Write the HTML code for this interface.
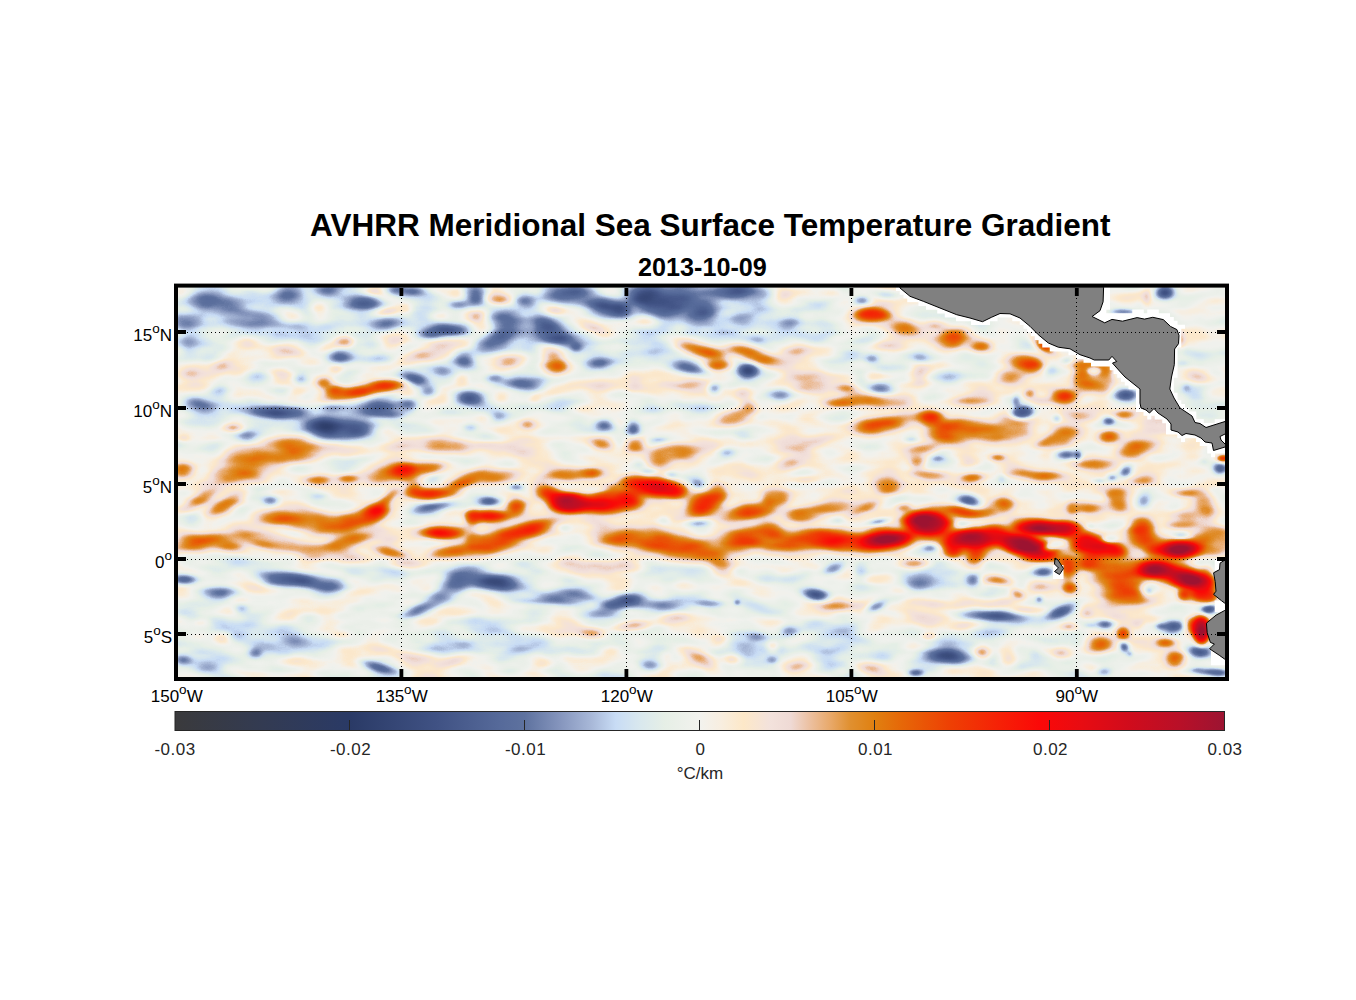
<!DOCTYPE html>
<html><head><meta charset="utf-8"><title>AVHRR Meridional Sea Surface Temperature Gradient</title>
<style>
html,body{margin:0;padding:0;background:#fff;}
body{width:1356px;height:1000px;position:relative;overflow:hidden;font-family:"Liberation Sans",Arial,Helvetica,sans-serif;color:#000;}
#fig{position:absolute;left:0;top:0;width:1356px;height:1000px;}
.t{position:absolute;white-space:nowrap;line-height:1;}
#title{left:310px;top:209.6px;font-size:31.5px;font-weight:bold;}
#sub{left:638px;top:254.8px;font-size:25.2px;font-weight:bold;}
.yl{font-size:17px;text-align:right;right:1184px;}
.xl{font-size:17px;text-align:center;width:80px;margin-left:-39.3px;top:687.5px;}
.cl{font-size:17px;letter-spacing:0.5px;text-align:center;width:80px;margin-left:-39px;top:741.3px;color:#262626;}
sup{font-size:13.5px;vertical-align:baseline;position:relative;top:-7.9px;line-height:0;}
#unit{left:640px;width:120px;text-align:center;top:765.2px;font-size:17px;color:#262626;}
</style></head><body>
<svg id="fig" width="1356" height="1000" viewBox="0 0 1356 1000">
<defs>
<radialGradient id="z1"><stop offset="0.00" stop-color="#6f6f6f" stop-opacity="1.000"/><stop offset="0.10" stop-color="#6f6f6f" stop-opacity="0.966"/><stop offset="0.20" stop-color="#6f6f6f" stop-opacity="0.871"/><stop offset="0.30" stop-color="#6f6f6f" stop-opacity="0.733"/><stop offset="0.40" stop-color="#6f6f6f" stop-opacity="0.574"/><stop offset="0.50" stop-color="#6f6f6f" stop-opacity="0.416"/><stop offset="0.60" stop-color="#6f6f6f" stop-opacity="0.278"/><stop offset="0.70" stop-color="#6f6f6f" stop-opacity="0.167"/><stop offset="0.80" stop-color="#6f6f6f" stop-opacity="0.087"/><stop offset="0.90" stop-color="#6f6f6f" stop-opacity="0.033"/><stop offset="1.00" stop-color="#6f6f6f" stop-opacity="0.000"/></radialGradient>
<radialGradient id="z2"><stop offset="0.00" stop-color="#878787" stop-opacity="1.000"/><stop offset="0.10" stop-color="#878787" stop-opacity="0.966"/><stop offset="0.20" stop-color="#878787" stop-opacity="0.871"/><stop offset="0.30" stop-color="#878787" stop-opacity="0.733"/><stop offset="0.40" stop-color="#878787" stop-opacity="0.574"/><stop offset="0.50" stop-color="#878787" stop-opacity="0.416"/><stop offset="0.60" stop-color="#878787" stop-opacity="0.278"/><stop offset="0.70" stop-color="#878787" stop-opacity="0.167"/><stop offset="0.80" stop-color="#878787" stop-opacity="0.087"/><stop offset="0.90" stop-color="#878787" stop-opacity="0.033"/><stop offset="1.00" stop-color="#878787" stop-opacity="0.000"/></radialGradient>
<radialGradient id="b1"><stop offset="0.00" stop-color="#6e6e6e" stop-opacity="1.000"/><stop offset="0.10" stop-color="#6e6e6e" stop-opacity="0.966"/><stop offset="0.20" stop-color="#6e6e6e" stop-opacity="0.871"/><stop offset="0.30" stop-color="#6e6e6e" stop-opacity="0.733"/><stop offset="0.40" stop-color="#6e6e6e" stop-opacity="0.574"/><stop offset="0.50" stop-color="#6e6e6e" stop-opacity="0.416"/><stop offset="0.60" stop-color="#6e6e6e" stop-opacity="0.278"/><stop offset="0.70" stop-color="#6e6e6e" stop-opacity="0.167"/><stop offset="0.80" stop-color="#6e6e6e" stop-opacity="0.087"/><stop offset="0.90" stop-color="#6e6e6e" stop-opacity="0.033"/><stop offset="1.00" stop-color="#6e6e6e" stop-opacity="0.000"/></radialGradient>
<radialGradient id="b2"><stop offset="0.00" stop-color="#636363" stop-opacity="1.000"/><stop offset="0.10" stop-color="#636363" stop-opacity="0.966"/><stop offset="0.20" stop-color="#636363" stop-opacity="0.871"/><stop offset="0.30" stop-color="#636363" stop-opacity="0.733"/><stop offset="0.40" stop-color="#636363" stop-opacity="0.574"/><stop offset="0.50" stop-color="#636363" stop-opacity="0.416"/><stop offset="0.60" stop-color="#636363" stop-opacity="0.278"/><stop offset="0.70" stop-color="#636363" stop-opacity="0.167"/><stop offset="0.80" stop-color="#636363" stop-opacity="0.087"/><stop offset="0.90" stop-color="#636363" stop-opacity="0.033"/><stop offset="1.00" stop-color="#636363" stop-opacity="0.000"/></radialGradient>
<radialGradient id="b3"><stop offset="0.00" stop-color="#595959" stop-opacity="1.000"/><stop offset="0.10" stop-color="#595959" stop-opacity="0.978"/><stop offset="0.20" stop-color="#595959" stop-opacity="0.902"/><stop offset="0.30" stop-color="#595959" stop-opacity="0.777"/><stop offset="0.40" stop-color="#595959" stop-opacity="0.620"/><stop offset="0.50" stop-color="#595959" stop-opacity="0.455"/><stop offset="0.60" stop-color="#595959" stop-opacity="0.304"/><stop offset="0.70" stop-color="#595959" stop-opacity="0.182"/><stop offset="0.80" stop-color="#595959" stop-opacity="0.092"/><stop offset="0.90" stop-color="#595959" stop-opacity="0.034"/><stop offset="1.00" stop-color="#595959" stop-opacity="0.000"/></radialGradient>
<radialGradient id="b4"><stop offset="0.00" stop-color="#4f4f4f" stop-opacity="1.000"/><stop offset="0.10" stop-color="#4f4f4f" stop-opacity="0.978"/><stop offset="0.20" stop-color="#4f4f4f" stop-opacity="0.902"/><stop offset="0.30" stop-color="#4f4f4f" stop-opacity="0.777"/><stop offset="0.40" stop-color="#4f4f4f" stop-opacity="0.620"/><stop offset="0.50" stop-color="#4f4f4f" stop-opacity="0.455"/><stop offset="0.60" stop-color="#4f4f4f" stop-opacity="0.304"/><stop offset="0.70" stop-color="#4f4f4f" stop-opacity="0.182"/><stop offset="0.80" stop-color="#4f4f4f" stop-opacity="0.092"/><stop offset="0.90" stop-color="#4f4f4f" stop-opacity="0.034"/><stop offset="1.00" stop-color="#4f4f4f" stop-opacity="0.000"/></radialGradient>
<radialGradient id="b5"><stop offset="0.00" stop-color="#464646" stop-opacity="1.000"/><stop offset="0.10" stop-color="#464646" stop-opacity="0.978"/><stop offset="0.20" stop-color="#464646" stop-opacity="0.902"/><stop offset="0.30" stop-color="#464646" stop-opacity="0.777"/><stop offset="0.40" stop-color="#464646" stop-opacity="0.620"/><stop offset="0.50" stop-color="#464646" stop-opacity="0.455"/><stop offset="0.60" stop-color="#464646" stop-opacity="0.304"/><stop offset="0.70" stop-color="#464646" stop-opacity="0.182"/><stop offset="0.80" stop-color="#464646" stop-opacity="0.092"/><stop offset="0.90" stop-color="#464646" stop-opacity="0.034"/><stop offset="1.00" stop-color="#464646" stop-opacity="0.000"/></radialGradient>
<radialGradient id="b6"><stop offset="0.00" stop-color="#373737" stop-opacity="1.000"/><stop offset="0.10" stop-color="#373737" stop-opacity="0.978"/><stop offset="0.20" stop-color="#373737" stop-opacity="0.902"/><stop offset="0.30" stop-color="#373737" stop-opacity="0.777"/><stop offset="0.40" stop-color="#373737" stop-opacity="0.620"/><stop offset="0.50" stop-color="#373737" stop-opacity="0.455"/><stop offset="0.60" stop-color="#373737" stop-opacity="0.304"/><stop offset="0.70" stop-color="#373737" stop-opacity="0.182"/><stop offset="0.80" stop-color="#373737" stop-opacity="0.092"/><stop offset="0.90" stop-color="#373737" stop-opacity="0.034"/><stop offset="1.00" stop-color="#373737" stop-opacity="0.000"/></radialGradient>
<radialGradient id="o1"><stop offset="0.00" stop-color="#8d8d8d" stop-opacity="1.000"/><stop offset="0.10" stop-color="#8d8d8d" stop-opacity="0.966"/><stop offset="0.20" stop-color="#8d8d8d" stop-opacity="0.871"/><stop offset="0.30" stop-color="#8d8d8d" stop-opacity="0.733"/><stop offset="0.40" stop-color="#8d8d8d" stop-opacity="0.574"/><stop offset="0.50" stop-color="#8d8d8d" stop-opacity="0.416"/><stop offset="0.60" stop-color="#8d8d8d" stop-opacity="0.278"/><stop offset="0.70" stop-color="#8d8d8d" stop-opacity="0.167"/><stop offset="0.80" stop-color="#8d8d8d" stop-opacity="0.087"/><stop offset="0.90" stop-color="#8d8d8d" stop-opacity="0.033"/><stop offset="1.00" stop-color="#8d8d8d" stop-opacity="0.000"/></radialGradient>
<radialGradient id="o2"><stop offset="0.00" stop-color="#999999" stop-opacity="1.000"/><stop offset="0.10" stop-color="#999999" stop-opacity="0.966"/><stop offset="0.20" stop-color="#999999" stop-opacity="0.871"/><stop offset="0.30" stop-color="#999999" stop-opacity="0.733"/><stop offset="0.40" stop-color="#999999" stop-opacity="0.574"/><stop offset="0.50" stop-color="#999999" stop-opacity="0.416"/><stop offset="0.60" stop-color="#999999" stop-opacity="0.278"/><stop offset="0.70" stop-color="#999999" stop-opacity="0.167"/><stop offset="0.80" stop-color="#999999" stop-opacity="0.087"/><stop offset="0.90" stop-color="#999999" stop-opacity="0.033"/><stop offset="1.00" stop-color="#999999" stop-opacity="0.000"/></radialGradient>
<radialGradient id="o3"><stop offset="0.00" stop-color="#a7a7a7" stop-opacity="1.000"/><stop offset="0.10" stop-color="#a7a7a7" stop-opacity="0.987"/><stop offset="0.20" stop-color="#a7a7a7" stop-opacity="0.931"/><stop offset="0.30" stop-color="#a7a7a7" stop-opacity="0.821"/><stop offset="0.40" stop-color="#a7a7a7" stop-opacity="0.667"/><stop offset="0.50" stop-color="#a7a7a7" stop-opacity="0.491"/><stop offset="0.60" stop-color="#a7a7a7" stop-opacity="0.323"/><stop offset="0.70" stop-color="#a7a7a7" stop-opacity="0.185"/><stop offset="0.80" stop-color="#a7a7a7" stop-opacity="0.089"/><stop offset="0.90" stop-color="#a7a7a7" stop-opacity="0.030"/><stop offset="1.00" stop-color="#a7a7a7" stop-opacity="0.000"/></radialGradient>
<radialGradient id="o4"><stop offset="0.00" stop-color="#aeaeae" stop-opacity="1.000"/><stop offset="0.10" stop-color="#aeaeae" stop-opacity="0.987"/><stop offset="0.20" stop-color="#aeaeae" stop-opacity="0.931"/><stop offset="0.30" stop-color="#aeaeae" stop-opacity="0.821"/><stop offset="0.40" stop-color="#aeaeae" stop-opacity="0.667"/><stop offset="0.50" stop-color="#aeaeae" stop-opacity="0.491"/><stop offset="0.60" stop-color="#aeaeae" stop-opacity="0.323"/><stop offset="0.70" stop-color="#aeaeae" stop-opacity="0.185"/><stop offset="0.80" stop-color="#aeaeae" stop-opacity="0.089"/><stop offset="0.90" stop-color="#aeaeae" stop-opacity="0.030"/><stop offset="1.00" stop-color="#aeaeae" stop-opacity="0.000"/></radialGradient>
<radialGradient id="o5"><stop offset="0.00" stop-color="#b5b5b5" stop-opacity="1.000"/><stop offset="0.10" stop-color="#b5b5b5" stop-opacity="0.987"/><stop offset="0.20" stop-color="#b5b5b5" stop-opacity="0.931"/><stop offset="0.30" stop-color="#b5b5b5" stop-opacity="0.821"/><stop offset="0.40" stop-color="#b5b5b5" stop-opacity="0.667"/><stop offset="0.50" stop-color="#b5b5b5" stop-opacity="0.491"/><stop offset="0.60" stop-color="#b5b5b5" stop-opacity="0.323"/><stop offset="0.70" stop-color="#b5b5b5" stop-opacity="0.185"/><stop offset="0.80" stop-color="#b5b5b5" stop-opacity="0.089"/><stop offset="0.90" stop-color="#b5b5b5" stop-opacity="0.030"/><stop offset="1.00" stop-color="#b5b5b5" stop-opacity="0.000"/></radialGradient>
<radialGradient id="r1"><stop offset="0.00" stop-color="#bfbfbf" stop-opacity="1.000"/><stop offset="0.10" stop-color="#bfbfbf" stop-opacity="0.987"/><stop offset="0.20" stop-color="#bfbfbf" stop-opacity="0.931"/><stop offset="0.30" stop-color="#bfbfbf" stop-opacity="0.821"/><stop offset="0.40" stop-color="#bfbfbf" stop-opacity="0.667"/><stop offset="0.50" stop-color="#bfbfbf" stop-opacity="0.491"/><stop offset="0.60" stop-color="#bfbfbf" stop-opacity="0.323"/><stop offset="0.70" stop-color="#bfbfbf" stop-opacity="0.185"/><stop offset="0.80" stop-color="#bfbfbf" stop-opacity="0.089"/><stop offset="0.90" stop-color="#bfbfbf" stop-opacity="0.030"/><stop offset="1.00" stop-color="#bfbfbf" stop-opacity="0.000"/></radialGradient>
<radialGradient id="r2"><stop offset="0.00" stop-color="#cdcdcd" stop-opacity="1.000"/><stop offset="0.10" stop-color="#cdcdcd" stop-opacity="0.987"/><stop offset="0.20" stop-color="#cdcdcd" stop-opacity="0.931"/><stop offset="0.30" stop-color="#cdcdcd" stop-opacity="0.821"/><stop offset="0.40" stop-color="#cdcdcd" stop-opacity="0.667"/><stop offset="0.50" stop-color="#cdcdcd" stop-opacity="0.491"/><stop offset="0.60" stop-color="#cdcdcd" stop-opacity="0.323"/><stop offset="0.70" stop-color="#cdcdcd" stop-opacity="0.185"/><stop offset="0.80" stop-color="#cdcdcd" stop-opacity="0.089"/><stop offset="0.90" stop-color="#cdcdcd" stop-opacity="0.030"/><stop offset="1.00" stop-color="#cdcdcd" stop-opacity="0.000"/></radialGradient>
<radialGradient id="r3"><stop offset="0.00" stop-color="#e1e1e1" stop-opacity="1.000"/><stop offset="0.10" stop-color="#e1e1e1" stop-opacity="0.993"/><stop offset="0.20" stop-color="#e1e1e1" stop-opacity="0.954"/><stop offset="0.30" stop-color="#e1e1e1" stop-opacity="0.864"/><stop offset="0.40" stop-color="#e1e1e1" stop-opacity="0.721"/><stop offset="0.50" stop-color="#e1e1e1" stop-opacity="0.542"/><stop offset="0.60" stop-color="#e1e1e1" stop-opacity="0.358"/><stop offset="0.70" stop-color="#e1e1e1" stop-opacity="0.202"/><stop offset="0.80" stop-color="#e1e1e1" stop-opacity="0.093"/><stop offset="0.90" stop-color="#e1e1e1" stop-opacity="0.030"/><stop offset="1.00" stop-color="#e1e1e1" stop-opacity="0.000"/></radialGradient>
<radialGradient id="r4"><stop offset="0.00" stop-color="#ffffff" stop-opacity="1.000"/><stop offset="0.10" stop-color="#ffffff" stop-opacity="0.997"/><stop offset="0.20" stop-color="#ffffff" stop-opacity="0.973"/><stop offset="0.30" stop-color="#ffffff" stop-opacity="0.906"/><stop offset="0.40" stop-color="#ffffff" stop-opacity="0.780"/><stop offset="0.50" stop-color="#ffffff" stop-opacity="0.601"/><stop offset="0.60" stop-color="#ffffff" stop-opacity="0.400"/><stop offset="0.70" stop-color="#ffffff" stop-opacity="0.221"/><stop offset="0.80" stop-color="#ffffff" stop-opacity="0.095"/><stop offset="0.90" stop-color="#ffffff" stop-opacity="0.027"/><stop offset="1.00" stop-color="#ffffff" stop-opacity="0.000"/></radialGradient>
<radialGradient id="hw"><stop offset="0.00" stop-color="#7e7e7e" stop-opacity="1.000"/><stop offset="0.10" stop-color="#7e7e7e" stop-opacity="0.996"/><stop offset="0.20" stop-color="#7e7e7e" stop-opacity="0.966"/><stop offset="0.30" stop-color="#7e7e7e" stop-opacity="0.891"/><stop offset="0.40" stop-color="#7e7e7e" stop-opacity="0.761"/><stop offset="0.50" stop-color="#7e7e7e" stop-opacity="0.586"/><stop offset="0.60" stop-color="#7e7e7e" stop-opacity="0.395"/><stop offset="0.70" stop-color="#7e7e7e" stop-opacity="0.225"/><stop offset="0.80" stop-color="#7e7e7e" stop-opacity="0.103"/><stop offset="0.90" stop-color="#7e7e7e" stop-opacity="0.032"/><stop offset="1.00" stop-color="#7e7e7e" stop-opacity="0.000"/></radialGradient>
<radialGradient id="hb"><stop offset="0.00" stop-color="#606060" stop-opacity="1.000"/><stop offset="0.10" stop-color="#606060" stop-opacity="0.988"/><stop offset="0.20" stop-color="#606060" stop-opacity="0.936"/><stop offset="0.30" stop-color="#606060" stop-opacity="0.833"/><stop offset="0.40" stop-color="#606060" stop-opacity="0.687"/><stop offset="0.50" stop-color="#606060" stop-opacity="0.517"/><stop offset="0.60" stop-color="#606060" stop-opacity="0.350"/><stop offset="0.70" stop-color="#606060" stop-opacity="0.208"/><stop offset="0.80" stop-color="#606060" stop-opacity="0.104"/><stop offset="0.90" stop-color="#606060" stop-opacity="0.037"/><stop offset="1.00" stop-color="#606060" stop-opacity="0.000"/></radialGradient>
<linearGradient id="cb" x1="0" x2="1" y1="0" y2="0"><stop offset="0.0000" stop-color="#3a3a3c"/><stop offset="0.0833" stop-color="#333b52"/><stop offset="0.1667" stop-color="#2a3a66"/><stop offset="0.2500" stop-color="#405284"/><stop offset="0.3100" stop-color="#566a9a"/><stop offset="0.3333" stop-color="#5e729f"/><stop offset="0.3667" stop-color="#8595bd"/><stop offset="0.3967" stop-color="#a8b8d8"/><stop offset="0.4200" stop-color="#c8dcf5"/><stop offset="0.4433" stop-color="#d9e8ee"/><stop offset="0.4667" stop-color="#e6efe6"/><stop offset="0.5000" stop-color="#f2f2ee"/><stop offset="0.5200" stop-color="#f8eee0"/><stop offset="0.5417" stop-color="#fde8c8"/><stop offset="0.5667" stop-color="#f3e2dc"/><stop offset="0.5867" stop-color="#efdad5"/><stop offset="0.6050" stop-color="#ecc0a0"/><stop offset="0.6250" stop-color="#e8a868"/><stop offset="0.6433" stop-color="#e09030"/><stop offset="0.6667" stop-color="#e08010"/><stop offset="0.6917" stop-color="#e66808"/><stop offset="0.7383" stop-color="#ee4004"/><stop offset="0.7867" stop-color="#f62006"/><stop offset="0.8250" stop-color="#fb0808"/><stop offset="0.8633" stop-color="#e80c12"/><stop offset="0.9100" stop-color="#d00c1c"/><stop offset="0.9583" stop-color="#b81028"/><stop offset="1.0000" stop-color="#9c1432"/></linearGradient>
<clipPath id="mapclip"><rect x="176" y="286" width="1051" height="393"/></clipPath>
<filter id="cm" x="170" y="280" width="1064" height="406" filterUnits="userSpaceOnUse" color-interpolation-filters="sRGB">
<feGaussianBlur in="SourceGraphic" stdDeviation="1.5" result="bl"/>
<feTurbulence type="fractalNoise" baseFrequency="0.022 0.055" numOctaves="2" seed="7" result="nz"/>
<feColorMatrix in="nz" type="matrix" values="1 0 0 0 0  1 0 0 0 0  1 0 0 0 0  0 0 0 0 1" result="ng"/>
<feComposite in="bl" in2="ng" operator="arithmetic" k1="0" k2="1" k3="0.21" k4="-0.108" result="fld"/>
<feComponentTransfer in="fld"><feFuncR type="table" tableValues="0.227 0.227 0.224 0.220 0.220 0.216 0.212 0.212 0.208 0.204 0.204 0.200 0.196 0.192 0.192 0.188 0.184 0.180 0.176 0.173 0.169 0.169 0.169 0.176 0.184 0.192 0.200 0.208 0.216 0.224 0.231 0.239 0.247 0.259 0.271 0.282 0.290 0.302 0.314 0.325 0.337 0.349 0.357 0.369 0.404 0.439 0.478 0.514 0.549 0.584 0.620 0.655 0.698 0.741 0.780 0.804 0.827 0.851 0.867 0.886 0.902 0.914 0.925 0.933 0.945 0.957 0.965 0.973 0.980 0.988 0.988 0.973 0.961 0.953 0.945 0.937 0.933 0.929 0.922 0.918 0.910 0.898 0.886 0.878 0.878 0.878 0.882 0.890 0.898 0.902 0.910 0.914 0.918 0.925 0.929 0.933 0.941 0.945 0.949 0.957 0.961 0.965 0.969 0.973 0.976 0.980 0.980 0.965 0.949 0.933 0.918 0.902 0.886 0.871 0.855 0.839 0.824 0.808 0.792 0.776 0.761 0.749 0.733 0.714 0.694 0.675 0.655 0.631 0.612"/><feFuncG type="table" tableValues="0.227 0.227 0.227 0.227 0.227 0.227 0.231 0.231 0.231 0.231 0.231 0.231 0.231 0.231 0.231 0.231 0.231 0.227 0.227 0.227 0.227 0.227 0.231 0.239 0.247 0.255 0.267 0.275 0.282 0.290 0.302 0.310 0.318 0.329 0.341 0.353 0.365 0.380 0.392 0.404 0.416 0.427 0.435 0.447 0.478 0.510 0.545 0.576 0.612 0.647 0.682 0.718 0.765 0.812 0.859 0.878 0.894 0.910 0.918 0.929 0.937 0.941 0.941 0.945 0.949 0.945 0.937 0.933 0.922 0.914 0.906 0.898 0.890 0.882 0.871 0.859 0.824 0.780 0.741 0.702 0.667 0.627 0.584 0.553 0.533 0.514 0.486 0.459 0.427 0.400 0.373 0.345 0.322 0.294 0.267 0.243 0.224 0.204 0.184 0.161 0.141 0.122 0.102 0.082 0.063 0.043 0.031 0.035 0.039 0.043 0.047 0.047 0.047 0.047 0.047 0.047 0.047 0.047 0.051 0.055 0.055 0.059 0.063 0.063 0.067 0.071 0.071 0.075 0.078"/><feFuncB type="table" tableValues="0.235 0.239 0.247 0.255 0.263 0.271 0.278 0.286 0.298 0.306 0.314 0.322 0.329 0.337 0.341 0.349 0.357 0.365 0.373 0.380 0.388 0.396 0.404 0.416 0.424 0.435 0.447 0.459 0.471 0.478 0.490 0.502 0.514 0.525 0.537 0.549 0.557 0.569 0.580 0.592 0.604 0.612 0.616 0.624 0.651 0.678 0.706 0.733 0.761 0.788 0.816 0.843 0.882 0.922 0.961 0.953 0.941 0.933 0.922 0.914 0.902 0.910 0.918 0.925 0.933 0.918 0.894 0.871 0.839 0.804 0.796 0.820 0.843 0.859 0.851 0.839 0.773 0.682 0.596 0.510 0.424 0.333 0.239 0.169 0.125 0.082 0.059 0.047 0.039 0.031 0.027 0.024 0.024 0.020 0.016 0.016 0.016 0.020 0.020 0.020 0.024 0.024 0.024 0.027 0.027 0.031 0.035 0.043 0.051 0.059 0.067 0.075 0.078 0.086 0.094 0.098 0.106 0.114 0.122 0.129 0.137 0.145 0.153 0.161 0.165 0.173 0.180 0.188 0.196"/></feComponentTransfer>
</filter>
</defs>
<!-- map field -->
<g clip-path="url(#mapclip)">
<g id="field" filter="url(#cm)">
<rect x="166" y="276" width="1071" height="413" fill="#808080"/>
<ellipse cx="300" cy="330" rx="220" ry="70" fill="url(#z1)"/>
<ellipse cx="560" cy="340" rx="200" ry="70" fill="url(#z1)"/>
<ellipse cx="760" cy="320" rx="120" ry="50" fill="url(#z1)"/>
<ellipse cx="260" cy="640" rx="160" ry="50" fill="url(#z1)"/>
<ellipse cx="520" cy="640" rx="200" ry="45" fill="url(#z1)"/>
<ellipse cx="800" cy="650" rx="200" ry="40" fill="url(#z1)"/>
<ellipse cx="980" cy="640" rx="100" ry="35" fill="url(#z1)"/>
<ellipse cx="300" cy="420" rx="120" ry="25" fill="url(#z1)"/>
<ellipse cx="300" cy="520" rx="180" ry="45" fill="url(#z2)"/>
<ellipse cx="600" cy="520" rx="200" ry="45" fill="url(#z2)"/>
<ellipse cx="900" cy="500" rx="250" ry="70" fill="url(#z2)"/>
<ellipse cx="1100" cy="480" rx="120" ry="100" fill="url(#z2)"/>
<ellipse cx="1000" cy="420" rx="120" ry="50" fill="url(#z2)"/>
<ellipse cx="1140" cy="620" rx="80" ry="50" fill="url(#z2)"/>
<ellipse cx="292.7" cy="315.2" rx="22.8" ry="12.2" fill="url(#o1)"/>
<ellipse cx="319.3" cy="307.7" rx="17.1" ry="14.4" fill="url(#o1)"/>
<ellipse cx="372.7" cy="291.8" rx="19" ry="9.5" fill="url(#o1)"/>
<ellipse cx="387.7" cy="311" rx="28.5" ry="9.5" transform="rotate(-10 387.7 311)" fill="url(#o1)"/>
<ellipse cx="182.7" cy="294.3" rx="20.9" ry="19" fill="url(#o1)"/>
<ellipse cx="329.3" cy="347.7" rx="34.2" ry="11.4" transform="rotate(-20 329.3 347.7)" fill="url(#o1)"/>
<ellipse cx="246" cy="344.3" rx="24.7" ry="11.4" fill="url(#o1)"/>
<ellipse cx="281" cy="376" rx="22" ry="14.4" fill="url(#o1)"/>
<ellipse cx="256" cy="392.7" rx="34.2" ry="13.7" transform="rotate(15 256 392.7)" fill="url(#o1)"/>
<ellipse cx="296" cy="392.7" rx="20.9" ry="9.5" transform="rotate(-20 296 392.7)" fill="url(#o1)"/>
<ellipse cx="392.7" cy="341" rx="24.7" ry="14.4" fill="url(#o1)"/>
<ellipse cx="336" cy="370.2" rx="12.2" ry="9.5" fill="url(#o1)"/>
<ellipse cx="502" cy="297.7" rx="34.2" ry="15.2" fill="url(#o1)"/>
<ellipse cx="552" cy="310.2" rx="22.8" ry="9.5" transform="rotate(10 552 310.2)" fill="url(#o1)"/>
<ellipse cx="462" cy="380.2" rx="11.4" ry="11.4" fill="url(#o1)"/>
<ellipse cx="405.3" cy="391" rx="13.3" ry="11.4" fill="url(#o1)"/>
<ellipse cx="535.3" cy="397.7" rx="11.4" ry="7.6" transform="rotate(-30 535.3 397.7)" fill="url(#o1)"/>
<ellipse cx="502" cy="397.7" rx="11.4" ry="11.4" fill="url(#o1)"/>
<ellipse cx="405.3" cy="309.3" rx="11.4" ry="11.4" fill="url(#o1)"/>
<ellipse cx="457" cy="291" rx="13.3" ry="6.8" fill="url(#o1)"/>
<ellipse cx="440.3" cy="316" rx="19" ry="7.6" fill="url(#o1)"/>
<ellipse cx="647.9" cy="321.4" rx="26.5" ry="10.6" fill="url(#o1)"/>
<ellipse cx="782.9" cy="294.8" rx="21.2" ry="10.6" fill="url(#o1)"/>
<ellipse cx="831.5" cy="292.6" rx="21.2" ry="10.6" fill="url(#o1)"/>
<ellipse cx="836" cy="339.1" rx="21.2" ry="8" fill="url(#o1)"/>
<ellipse cx="878" cy="374.5" rx="18.6" ry="8" fill="url(#o1)"/>
<ellipse cx="330.9" cy="450.8" rx="79.6" ry="13.3" fill="url(#o1)"/>
<ellipse cx="741.5" cy="472.9" rx="79.6" ry="15.9" fill="url(#o1)"/>
<ellipse cx="520.2" cy="455.2" rx="79.6" ry="21.2" fill="url(#o1)"/>
<ellipse cx="809.2" cy="439.8" rx="79.6" ry="31.9" fill="url(#o1)"/>
<ellipse cx="379.5" cy="652" rx="53.1" ry="13.3" fill="url(#o1)"/>
<ellipse cx="328.7" cy="610" rx="31.9" ry="10.6" fill="url(#o1)"/>
<ellipse cx="286.6" cy="613.3" rx="37.2" ry="13.3" fill="url(#o1)"/>
<ellipse cx="297.7" cy="660.8" rx="42.5" ry="8" fill="url(#o1)"/>
<ellipse cx="463.6" cy="608.8" rx="31.9" ry="15.9" fill="url(#o1)"/>
<ellipse cx="448.1" cy="664.2" rx="31.9" ry="10.6" transform="rotate(-20 448.1 664.2)" fill="url(#o1)"/>
<ellipse cx="222.5" cy="638.7" rx="15.9" ry="10.6" fill="url(#o1)"/>
<ellipse cx="201.4" cy="622.1" rx="15.9" ry="8" fill="url(#o1)"/>
<ellipse cx="339.7" cy="635.4" rx="26.5" ry="8" fill="url(#o1)"/>
<ellipse cx="564.5" cy="628.8" rx="106.2" ry="15.9" fill="url(#o1)"/>
<ellipse cx="542.4" cy="661.9" rx="21.2" ry="10.6" fill="url(#o1)"/>
<ellipse cx="611" cy="652" rx="18.6" ry="8" fill="url(#o1)"/>
<ellipse cx="666.3" cy="655.3" rx="13.3" ry="8" fill="url(#o1)"/>
<ellipse cx="719.4" cy="639.8" rx="15.9" ry="10.6" fill="url(#o1)"/>
<ellipse cx="732.6" cy="659.7" rx="15.9" ry="10.6" fill="url(#o1)"/>
<ellipse cx="772.5" cy="646.5" rx="10.6" ry="10.6" fill="url(#o1)"/>
<ellipse cx="524.7" cy="627.7" rx="15.9" ry="8" fill="url(#o1)"/>
<ellipse cx="498.1" cy="604.4" rx="31.9" ry="10.6" fill="url(#o1)"/>
<ellipse cx="964.1" cy="624.3" rx="26.5" ry="10.6" fill="url(#o1)"/>
<ellipse cx="1001.7" cy="602.2" rx="42.5" ry="8" fill="url(#o1)"/>
<ellipse cx="948.6" cy="671.9" rx="26.5" ry="8" fill="url(#o1)"/>
<ellipse cx="899.9" cy="659.7" rx="21.2" ry="10.6" fill="url(#o1)"/>
<ellipse cx="842.4" cy="670.8" rx="15.9" ry="8" fill="url(#o1)"/>
<ellipse cx="381" cy="359.3" rx="23.8" ry="9.5" fill="url(#b1)"/>
<ellipse cx="427" cy="299.3" rx="31.7" ry="12.7" fill="url(#b1)"/>
<ellipse cx="528.7" cy="341" rx="19" ry="12.7" fill="url(#b1)"/>
<ellipse cx="593.7" cy="342.7" rx="47.5" ry="15.8" fill="url(#b1)"/>
<ellipse cx="560.3" cy="382.7" rx="19" ry="12.7" fill="url(#b1)"/>
<ellipse cx="443.7" cy="369.3" rx="19" ry="12.7" fill="url(#b1)"/>
<ellipse cx="485.3" cy="352.7" rx="19" ry="9.5" fill="url(#b1)"/>
<ellipse cx="568.7" cy="402.7" rx="25.3" ry="9.5" fill="url(#b1)"/>
<ellipse cx="816.1" cy="314.8" rx="44.2" ry="22.1" fill="url(#b1)"/>
<ellipse cx="871.4" cy="341.3" rx="35.4" ry="11.1" fill="url(#b1)"/>
<ellipse cx="889.1" cy="367.9" rx="35.4" ry="13.3" fill="url(#b1)"/>
<ellipse cx="860.3" cy="381.1" rx="13.3" ry="17.7" fill="url(#b1)"/>
<ellipse cx="650.1" cy="407.7" rx="26.5" ry="13.3" fill="url(#b1)"/>
<ellipse cx="701" cy="409.9" rx="26.5" ry="11.1" fill="url(#b1)"/>
<ellipse cx="650.1" cy="350.2" rx="31" ry="17.7" fill="url(#b1)"/>
<ellipse cx="952.3" cy="376.7" rx="22.1" ry="17.7" fill="url(#b1)"/>
<ellipse cx="1193.5" cy="392.2" rx="19.9" ry="15.5" fill="url(#b1)"/>
<ellipse cx="1182.4" cy="363.4" rx="13.3" ry="6.6" fill="url(#b1)"/>
<ellipse cx="319.8" cy="496.2" rx="17.7" ry="5.3" fill="url(#b1)"/>
<ellipse cx="242.4" cy="565.9" rx="66.4" ry="13.3" fill="url(#b1)"/>
<ellipse cx="209.2" cy="426.5" rx="44.2" ry="17.7" fill="url(#b1)"/>
<ellipse cx="684" cy="599.1" rx="44.2" ry="9.7" fill="url(#b1)"/>
<ellipse cx="710.5" cy="602.4" rx="22.1" ry="6.6" fill="url(#b1)"/>
<ellipse cx="664.1" cy="519.4" rx="13.3" ry="8.8" fill="url(#b1)"/>
<ellipse cx="697.2" cy="484" rx="13.3" ry="11.1" fill="url(#b1)"/>
<ellipse cx="564.5" cy="528.3" rx="13.3" ry="6.6" fill="url(#b1)"/>
<ellipse cx="741.5" cy="435.3" rx="17.7" ry="8.8" fill="url(#b1)"/>
<ellipse cx="639.7" cy="464.1" rx="13.3" ry="8.8" fill="url(#b1)"/>
<ellipse cx="763.6" cy="576.9" rx="35.4" ry="17.7" fill="url(#b1)"/>
<ellipse cx="542.4" cy="570.3" rx="44.2" ry="13.3" fill="url(#b1)"/>
<ellipse cx="1001.7" cy="477.4" rx="8.8" ry="8.8" fill="url(#b1)"/>
<ellipse cx="837.9" cy="520.5" rx="13.3" ry="4.4" fill="url(#b1)"/>
<ellipse cx="944.1" cy="588" rx="44.2" ry="22.1" fill="url(#b1)"/>
<ellipse cx="1110" cy="539" rx="16" ry="6" fill="url(#b1)"/>
<ellipse cx="1178" cy="509" rx="16" ry="10" fill="url(#b1)"/>
<ellipse cx="1204" cy="461" rx="10" ry="6" fill="url(#b1)"/>
<ellipse cx="1090" cy="527" rx="8" ry="4.8" fill="url(#b1)"/>
<ellipse cx="286.6" cy="644.2" rx="17.7" ry="6.6" fill="url(#b1)"/>
<ellipse cx="417.2" cy="640.9" rx="17.7" ry="5.3" fill="url(#b1)"/>
<ellipse cx="802.5" cy="647.6" rx="8.8" ry="8.8" fill="url(#b1)"/>
<ellipse cx="1034.8" cy="653.1" rx="13.3" ry="11.1" fill="url(#b1)"/>
<ellipse cx="187.7" cy="346" rx="18.5" ry="18.5" fill="url(#b2)"/>
<ellipse cx="254.3" cy="376.8" rx="22.6" ry="11.5" fill="url(#b2)"/>
<ellipse cx="219.3" cy="392.7" rx="21.4" ry="13.2" fill="url(#b2)"/>
<ellipse cx="301" cy="379.3" rx="13.2" ry="10.7" fill="url(#b2)"/>
<ellipse cx="692.2" cy="333.6" rx="23" ry="8.6" fill="url(#b2)"/>
<ellipse cx="757.4" cy="339.1" rx="17.3" ry="8.6" fill="url(#b2)"/>
<ellipse cx="886.8" cy="294.8" rx="23" ry="8.6" fill="url(#b2)"/>
<ellipse cx="872.5" cy="358.6" rx="12.7" ry="8.6" fill="url(#b2)"/>
<ellipse cx="920" cy="360.1" rx="14.4" ry="10.4" fill="url(#b2)"/>
<ellipse cx="780.7" cy="394.4" rx="23" ry="14.4" fill="url(#b2)"/>
<ellipse cx="1016.5" cy="401" rx="6.9" ry="11.5" fill="url(#b2)"/>
<ellipse cx="1049.7" cy="370.1" rx="14.4" ry="10.4" fill="url(#b2)"/>
<ellipse cx="1067.4" cy="361.2" rx="11.5" ry="6.9" fill="url(#b2)"/>
<ellipse cx="1186.8" cy="387.8" rx="8.6" ry="8.6" fill="url(#b2)"/>
<ellipse cx="249" cy="435.3" rx="20.1" ry="12.7" fill="url(#b2)"/>
<ellipse cx="432.6" cy="478.5" rx="17.3" ry="8.6" fill="url(#b2)"/>
<ellipse cx="470.2" cy="427.6" rx="14.4" ry="6.9" fill="url(#b2)"/>
<ellipse cx="551.2" cy="599.1" rx="63.3" ry="11.5" fill="url(#b2)"/>
<ellipse cx="582.2" cy="596.8" rx="34.5" ry="11.5" transform="rotate(10 582.2 596.8)" fill="url(#b2)"/>
<ellipse cx="670.7" cy="475.2" rx="11.5" ry="5.8" fill="url(#b2)"/>
<ellipse cx="728.2" cy="451.9" rx="17.3" ry="10.4" fill="url(#b2)"/>
<ellipse cx="659.6" cy="439.8" rx="17.3" ry="4.6" fill="url(#b2)"/>
<ellipse cx="697.2" cy="522.7" rx="23" ry="6.9" fill="url(#b2)"/>
<ellipse cx="498.1" cy="417.6" rx="17.3" ry="11.5" fill="url(#b2)"/>
<ellipse cx="911" cy="439.3" rx="12.7" ry="4.6" fill="url(#b2)"/>
<ellipse cx="937.5" cy="458.6" rx="12.7" ry="4.6" fill="url(#b2)"/>
<ellipse cx="930.9" cy="547.1" rx="12.7" ry="6.9" fill="url(#b2)"/>
<ellipse cx="961.8" cy="524.9" rx="14.4" ry="6.9" fill="url(#b2)"/>
<ellipse cx="860.1" cy="570.3" rx="14.4" ry="14.4" fill="url(#b2)"/>
<ellipse cx="1057" cy="418.7" rx="6.9" ry="6.9" fill="url(#b2)"/>
<ellipse cx="1100" cy="481" rx="13" ry="4.2" fill="url(#b2)"/>
<ellipse cx="1144" cy="501" rx="13" ry="13" fill="url(#b2)"/>
<ellipse cx="212.5" cy="666.4" rx="28.8" ry="11.5" fill="url(#b2)"/>
<ellipse cx="241.3" cy="608.8" rx="12.7" ry="8.6" fill="url(#b2)"/>
<ellipse cx="757" cy="637.6" rx="17.3" ry="6.9" fill="url(#b2)"/>
<ellipse cx="1090.6" cy="625.8" rx="11.7" ry="3.5" fill="url(#b2)"/>
<ellipse cx="292.7" cy="354.3" rx="51.5" ry="17.3" transform="rotate(15 292.7 354.3)" fill="url(#o2)"/>
<ellipse cx="221" cy="366" rx="51.5" ry="15.6" transform="rotate(-40 221 366)" fill="url(#o2)"/>
<ellipse cx="189.3" cy="373.5" rx="37" ry="13.2" fill="url(#o2)"/>
<ellipse cx="552" cy="357.7" rx="24.7" ry="26.8" fill="url(#o2)"/>
<ellipse cx="477" cy="318.5" rx="20.6" ry="22.6" transform="rotate(30 477 318.5)" fill="url(#o2)"/>
<ellipse cx="435.3" cy="349.3" rx="90.6" ry="16.5" transform="rotate(-20 435.3 349.3)" fill="url(#o2)"/>
<ellipse cx="506.2" cy="362.7" rx="41.2" ry="16.5" transform="rotate(-10 506.2 362.7)" fill="url(#o2)"/>
<ellipse cx="590.3" cy="325.2" rx="37" ry="14.4" transform="rotate(25 590.3 325.2)" fill="url(#o2)"/>
<ellipse cx="602" cy="386" rx="65.9" ry="16.5" transform="rotate(-8 602 386)" fill="url(#o2)"/>
<ellipse cx="622" cy="381.8" rx="20.6" ry="8.2" fill="url(#o2)"/>
<ellipse cx="906.8" cy="396.6" rx="28.8" ry="8.6" fill="url(#o2)"/>
<ellipse cx="678.9" cy="385.6" rx="51.8" ry="12.7" fill="url(#o2)"/>
<ellipse cx="632.4" cy="385.6" rx="17.3" ry="11.5" fill="url(#o2)"/>
<ellipse cx="820.5" cy="383.3" rx="74.8" ry="23" transform="rotate(10 820.5 383.3)" fill="url(#o2)"/>
<ellipse cx="796.1" cy="350.2" rx="28.8" ry="14.4" fill="url(#o2)"/>
<ellipse cx="889.1" cy="345.7" rx="34.5" ry="14.4" fill="url(#o2)"/>
<ellipse cx="920" cy="374.5" rx="17.3" ry="23" fill="url(#o2)"/>
<ellipse cx="743" cy="392.2" rx="17.3" ry="14.4" fill="url(#o2)"/>
<ellipse cx="934.6" cy="325.8" rx="23" ry="8.6" fill="url(#o2)"/>
<ellipse cx="967.8" cy="401" rx="40.3" ry="11.5" fill="url(#o2)"/>
<ellipse cx="1038.6" cy="401" rx="28.8" ry="8.6" fill="url(#o2)"/>
<ellipse cx="1147" cy="298.2" rx="8.6" ry="14.4" fill="url(#o2)"/>
<ellipse cx="1197.9" cy="377.8" rx="23" ry="11.5" fill="url(#o2)"/>
<ellipse cx="1180.2" cy="341.3" rx="8.6" ry="17.3" fill="url(#o2)"/>
<ellipse cx="408.3" cy="563.7" rx="34.5" ry="8.6" fill="url(#o2)"/>
<ellipse cx="182.6" cy="438.7" rx="14.4" ry="6.9" fill="url(#o2)"/>
<ellipse cx="233.5" cy="427.6" rx="17.3" ry="8.6" fill="url(#o2)"/>
<ellipse cx="441.5" cy="446.4" rx="86.3" ry="14.4" fill="url(#o2)"/>
<ellipse cx="526.9" cy="424.3" rx="14.4" ry="8.6" fill="url(#o2)"/>
<ellipse cx="487.1" cy="444.2" rx="34.5" ry="6.9" fill="url(#o2)"/>
<ellipse cx="597.7" cy="565.9" rx="86.3" ry="11.5" fill="url(#o2)"/>
<ellipse cx="804.8" cy="479.6" rx="34.5" ry="6.9" fill="url(#o2)"/>
<ellipse cx="968.5" cy="461.9" rx="23" ry="14.4" fill="url(#o2)"/>
<ellipse cx="1037.1" cy="585.8" rx="28.8" ry="10.4" fill="url(#o2)"/>
<ellipse cx="842.4" cy="605.7" rx="46" ry="11.5" fill="url(#o2)"/>
<ellipse cx="953" cy="605.7" rx="86.3" ry="11.5" fill="url(#o2)"/>
<ellipse cx="1023.8" cy="610.1" rx="28.8" ry="8.6" fill="url(#o2)"/>
<ellipse cx="1088" cy="415" rx="31.2" ry="13" fill="url(#o2)"/>
<ellipse cx="1156" cy="431" rx="52" ry="31.2" fill="url(#o2)"/>
<ellipse cx="414.9" cy="658.6" rx="34.5" ry="14.4" fill="url(#o2)"/>
<ellipse cx="681.8" cy="618.1" rx="40.3" ry="11.5" fill="url(#o2)"/>
<ellipse cx="697.2" cy="657.5" rx="40.3" ry="14.4" transform="rotate(30 697.2 657.5)" fill="url(#o2)"/>
<ellipse cx="981.8" cy="653.1" rx="14.4" ry="12.7" fill="url(#o2)"/>
<ellipse cx="1061.4" cy="653.1" rx="17.3" ry="8.6" fill="url(#o2)"/>
<ellipse cx="928.7" cy="636.5" rx="14.4" ry="6.9" fill="url(#o2)"/>
<ellipse cx="919.8" cy="614.4" rx="40.3" ry="17.3" transform="rotate(20 919.8 614.4)" fill="url(#o2)"/>
<ellipse cx="1008.3" cy="658.6" rx="17.3" ry="17.3" fill="url(#o2)"/>
<ellipse cx="871.1" cy="666.4" rx="28.8" ry="14.4" fill="url(#o2)"/>
<ellipse cx="795.9" cy="667.5" rx="28.8" ry="14.4" fill="url(#o2)"/>
<ellipse cx="1137.7" cy="624.1" rx="11.7" ry="7.3" fill="url(#o2)"/>
<ellipse cx="1087.2" cy="613.5" rx="11.7" ry="8.7" fill="url(#o2)"/>
<ellipse cx="344.3" cy="341.8" rx="16.5" ry="10.7" fill="url(#o3)"/>
<ellipse cx="555.3" cy="366" rx="20.6" ry="13.2" fill="url(#o3)"/>
<ellipse cx="842.6" cy="403.3" rx="34.5" ry="8.6" fill="url(#o3)"/>
<ellipse cx="748.6" cy="406.6" rx="14.4" ry="11.5" fill="url(#o3)"/>
<ellipse cx="813.8" cy="388.9" rx="28.8" ry="8.6" fill="url(#o3)"/>
<ellipse cx="843.7" cy="387.8" rx="17.3" ry="6.9" fill="url(#o3)"/>
<ellipse cx="981.1" cy="346.8" rx="20.1" ry="8.6" fill="url(#o3)"/>
<ellipse cx="1029.8" cy="393.7" rx="10.4" ry="8.6" fill="url(#o3)"/>
<ellipse cx="1091.7" cy="364.5" rx="34.5" ry="8.6" fill="url(#o3)"/>
<ellipse cx="271.1" cy="451.9" rx="80.5" ry="21.9" transform="rotate(-5 271.1 451.9)" fill="url(#o3)"/>
<ellipse cx="242.4" cy="469.6" rx="71.9" ry="24.2" transform="rotate(-15 242.4 469.6)" fill="url(#o3)"/>
<ellipse cx="299.9" cy="455.2" rx="34.5" ry="14.4" transform="rotate(15 299.9 455.2)" fill="url(#o3)"/>
<ellipse cx="319.8" cy="479.6" rx="23" ry="8.6" fill="url(#o3)"/>
<ellipse cx="348.6" cy="478.5" rx="20.1" ry="6.9" fill="url(#o3)"/>
<ellipse cx="428.2" cy="467.4" rx="28.8" ry="10.4" fill="url(#o3)"/>
<ellipse cx="388.4" cy="497.3" rx="23" ry="8.6" transform="rotate(-40 388.4 497.3)" fill="url(#o3)"/>
<ellipse cx="313.2" cy="523.8" rx="69" ry="18.4" transform="rotate(10 313.2 523.8)" fill="url(#o3)"/>
<ellipse cx="282.2" cy="519.4" rx="40.3" ry="12.7" transform="rotate(10 282.2 519.4)" fill="url(#o3)"/>
<ellipse cx="295.5" cy="547.1" rx="103.5" ry="13.8" transform="rotate(10 295.5 547.1)" fill="url(#o3)"/>
<ellipse cx="268.9" cy="539.3" rx="57.5" ry="12.7" transform="rotate(12 268.9 539.3)" fill="url(#o3)"/>
<ellipse cx="195.9" cy="542.6" rx="57.5" ry="17.3" transform="rotate(-8 195.9 542.6)" fill="url(#o3)"/>
<ellipse cx="200.3" cy="499.5" rx="40.3" ry="11.5" transform="rotate(-30 200.3 499.5)" fill="url(#o3)"/>
<ellipse cx="224.7" cy="506.1" rx="46" ry="14.4" transform="rotate(-35 224.7 506.1)" fill="url(#o3)"/>
<ellipse cx="390.6" cy="552.6" rx="34.5" ry="8.6" transform="rotate(15 390.6 552.6)" fill="url(#o3)"/>
<ellipse cx="472.5" cy="541.5" rx="11.5" ry="17.3" fill="url(#o3)"/>
<ellipse cx="661.8" cy="457.5" rx="23" ry="14.4" fill="url(#o3)"/>
<ellipse cx="603.2" cy="443.1" rx="23" ry="14.4" fill="url(#o3)"/>
<ellipse cx="495.9" cy="476.3" rx="69" ry="11.5" transform="rotate(-3 495.9 476.3)" fill="url(#o3)"/>
<ellipse cx="734.8" cy="417.6" rx="34.5" ry="14.4" transform="rotate(-20 734.8 417.6)" fill="url(#o3)"/>
<ellipse cx="721.6" cy="565.9" rx="23" ry="17.3" transform="rotate(30 721.6 565.9)" fill="url(#o3)"/>
<ellipse cx="1012.7" cy="427.6" rx="34.5" ry="23" fill="url(#o3)"/>
<ellipse cx="992.8" cy="435.3" rx="28.8" ry="14.4" fill="url(#o3)"/>
<ellipse cx="922" cy="450.8" rx="28.8" ry="10.4" transform="rotate(-10 922 450.8)" fill="url(#o3)"/>
<ellipse cx="917.6" cy="461.9" rx="14.4" ry="14.4" fill="url(#o3)"/>
<ellipse cx="988.4" cy="510.6" rx="23" ry="11.5" fill="url(#o3)"/>
<ellipse cx="864.5" cy="508.3" rx="28.8" ry="8.6" transform="rotate(-20 864.5 508.3)" fill="url(#o3)"/>
<ellipse cx="904.3" cy="507.2" rx="14.4" ry="6.9" fill="url(#o3)"/>
<ellipse cx="787.1" cy="464.1" rx="23" ry="10.4" fill="url(#o3)"/>
<ellipse cx="997.2" cy="457.5" rx="14.4" ry="6.9" fill="url(#o3)"/>
<ellipse cx="999.5" cy="581.4" rx="28.8" ry="8.6" transform="rotate(10 999.5 581.4)" fill="url(#o3)"/>
<ellipse cx="1017.2" cy="593.5" rx="14.4" ry="8.6" transform="rotate(30 1017.2 593.5)" fill="url(#o3)"/>
<ellipse cx="915.4" cy="563.7" rx="23" ry="8.6" fill="url(#o3)"/>
<ellipse cx="1098" cy="464" rx="36.4" ry="10.4" transform="rotate(-10 1098 464)" fill="url(#o3)"/>
<ellipse cx="1142" cy="480" rx="26" ry="9.4" fill="url(#o3)"/>
<ellipse cx="1182" cy="524" rx="26" ry="9.4" fill="url(#o3)"/>
<ellipse cx="1204" cy="505" rx="18.2" ry="26" transform="rotate(-25 1204 505)" fill="url(#o3)"/>
<ellipse cx="1188" cy="493" rx="26" ry="7.8" fill="url(#o3)"/>
<ellipse cx="1216" cy="539" rx="26" ry="20.8" fill="url(#o3)"/>
<ellipse cx="1124" cy="415" rx="20.8" ry="7.8" fill="url(#o3)"/>
<ellipse cx="630.9" cy="626.5" rx="34.5" ry="8.6" transform="rotate(-5 630.9 626.5)" fill="url(#o3)"/>
<ellipse cx="591" cy="632.7" rx="23" ry="8.6" fill="url(#o3)"/>
<ellipse cx="1069.1" cy="626.5" rx="14.4" ry="6.9" fill="url(#o3)"/>
<ellipse cx="1210.9" cy="541" rx="33.7" ry="23.6" fill="url(#o3)"/>
<ellipse cx="1182.3" cy="516.3" rx="40.5" ry="13.5" fill="url(#o3)"/>
<ellipse cx="231" cy="311" rx="72.2" ry="20.9" transform="rotate(18 231 311)" fill="url(#b3)"/>
<ellipse cx="209.3" cy="296" rx="28.5" ry="20.9" fill="url(#b3)"/>
<ellipse cx="186" cy="321.8" rx="38" ry="17.1" fill="url(#b3)"/>
<ellipse cx="256" cy="319.3" rx="34.2" ry="13.3" fill="url(#b3)"/>
<ellipse cx="292.7" cy="291" rx="28.5" ry="19" fill="url(#b3)"/>
<ellipse cx="326" cy="291.8" rx="28.5" ry="11.4" fill="url(#b3)"/>
<ellipse cx="396" cy="290.2" rx="19" ry="11.4" fill="url(#b3)"/>
<ellipse cx="341" cy="356.8" rx="19.8" ry="12.2" fill="url(#b3)"/>
<ellipse cx="458.7" cy="304.3" rx="19" ry="8.4" fill="url(#b3)"/>
<ellipse cx="526.2" cy="301" rx="19" ry="15.2" fill="url(#b3)"/>
<ellipse cx="432" cy="334.3" rx="19" ry="7.6" fill="url(#b3)"/>
<ellipse cx="576.2" cy="347.7" rx="9.5" ry="7.6" fill="url(#b3)"/>
<ellipse cx="597" cy="362.7" rx="24.7" ry="13.3" fill="url(#b3)"/>
<ellipse cx="495.3" cy="377.7" rx="17.1" ry="6.8" fill="url(#b3)"/>
<ellipse cx="428.7" cy="391.8" rx="17.1" ry="9.5" fill="url(#b3)"/>
<ellipse cx="743" cy="319.2" rx="31.9" ry="13.3" fill="url(#b3)"/>
<ellipse cx="789.5" cy="323.6" rx="21.2" ry="11.7" transform="rotate(-20 789.5 323.6)" fill="url(#b3)"/>
<ellipse cx="714.3" cy="388.9" rx="11.7" ry="10.6" fill="url(#b3)"/>
<ellipse cx="862.5" cy="300.4" rx="15.9" ry="8" fill="url(#b3)"/>
<ellipse cx="271.1" cy="500.6" rx="14.9" ry="8" fill="url(#b3)"/>
<ellipse cx="430.4" cy="508.3" rx="37.2" ry="10.6" transform="rotate(-10 430.4 508.3)" fill="url(#b3)"/>
<ellipse cx="275.6" cy="579.1" rx="31.9" ry="13.8" fill="url(#b3)"/>
<ellipse cx="441.5" cy="596.8" rx="37.2" ry="13.8" transform="rotate(-30 441.5 596.8)" fill="url(#b3)"/>
<ellipse cx="737.1" cy="602.4" rx="5.3" ry="4.2" fill="url(#b3)"/>
<ellipse cx="604.3" cy="424.3" rx="15.9" ry="10.6" fill="url(#b3)"/>
<ellipse cx="489.3" cy="501.7" rx="18.6" ry="8" fill="url(#b3)"/>
<ellipse cx="515.8" cy="487.3" rx="13.3" ry="6.4" fill="url(#b3)"/>
<ellipse cx="648.6" cy="471.8" rx="15.9" ry="6.4" fill="url(#b3)"/>
<ellipse cx="833.5" cy="568.1" rx="21.2" ry="9.6" transform="rotate(-20 833.5 568.1)" fill="url(#b3)"/>
<ellipse cx="972.9" cy="581.4" rx="13.3" ry="13.3" fill="url(#b3)"/>
<ellipse cx="1039.3" cy="599.1" rx="6.4" ry="5.3" fill="url(#b3)"/>
<ellipse cx="1149" cy="591" rx="14.4" ry="7.2" fill="url(#b3)"/>
<ellipse cx="1109" cy="421" rx="10.6" ry="6.7" fill="url(#b3)"/>
<ellipse cx="1126" cy="471" rx="12" ry="8.6" transform="rotate(-30 1126 471)" fill="url(#b3)"/>
<ellipse cx="1112" cy="478" rx="9.6" ry="5.8" fill="url(#b3)"/>
<ellipse cx="1182" cy="536" rx="14.4" ry="5.8" fill="url(#b3)"/>
<ellipse cx="182.6" cy="660.2" rx="15.9" ry="9.6" fill="url(#b3)"/>
<ellipse cx="255.6" cy="652.7" rx="11.7" ry="9.6" fill="url(#b3)"/>
<ellipse cx="599.9" cy="613.3" rx="31.9" ry="10.6" fill="url(#b3)"/>
<ellipse cx="664.1" cy="605.5" rx="42.5" ry="10.6" fill="url(#b3)"/>
<ellipse cx="708.3" cy="603.3" rx="26.5" ry="6.4" fill="url(#b3)"/>
<ellipse cx="540.2" cy="601.1" rx="31.9" ry="5.3" fill="url(#b3)"/>
<ellipse cx="650.8" cy="665.9" rx="21.2" ry="10.6" fill="url(#b3)"/>
<ellipse cx="772.5" cy="659.7" rx="10.6" ry="6.4" fill="url(#b3)"/>
<ellipse cx="789.3" cy="631" rx="15.9" ry="11.7" fill="url(#b3)"/>
<ellipse cx="1161.2" cy="626.3" rx="10.8" ry="5.4" fill="url(#b3)"/>
<ellipse cx="1129.8" cy="653.8" rx="5.4" ry="4" fill="url(#b3)"/>
<ellipse cx="1197.1" cy="670.1" rx="10.8" ry="3.2" fill="url(#b3)"/>
<ellipse cx="1104" cy="671.7" rx="13.5" ry="6.7" fill="url(#b3)"/>
<ellipse cx="199.2" cy="404.7" rx="31" ry="12.4" fill="url(#b3)"/>
<ellipse cx="336" cy="407.3" rx="37.2" ry="9.3" fill="url(#b3)"/>
<ellipse cx="389.3" cy="323.5" rx="28.3" ry="13.3" transform="rotate(-10 389.3 323.5)" fill="url(#b4)"/>
<ellipse cx="475.3" cy="296" rx="19.9" ry="18.3" transform="rotate(-30 475.3 296)" fill="url(#b4)"/>
<ellipse cx="412" cy="291.8" rx="23.3" ry="8.3" fill="url(#b4)"/>
<ellipse cx="620.3" cy="309.3" rx="16.6" ry="13.3" fill="url(#b4)"/>
<ellipse cx="448.7" cy="329.7" rx="43.2" ry="12.6" transform="rotate(-5 448.7 329.7)" fill="url(#b4)"/>
<ellipse cx="495.3" cy="341" rx="33.2" ry="15" transform="rotate(-20 495.3 341)" fill="url(#b4)"/>
<ellipse cx="463.7" cy="360.2" rx="19.9" ry="14" fill="url(#b4)"/>
<ellipse cx="413.7" cy="379.3" rx="24.9" ry="11.6" transform="rotate(10 413.7 379.3)" fill="url(#b4)"/>
<ellipse cx="522" cy="384.3" rx="39.9" ry="15" fill="url(#b4)"/>
<ellipse cx="470.3" cy="397.7" rx="28.3" ry="14" transform="rotate(5 470.3 397.7)" fill="url(#b4)"/>
<ellipse cx="407" cy="405.2" rx="16.6" ry="10" fill="url(#b4)"/>
<ellipse cx="667.8" cy="308.1" rx="37.2" ry="18.6" fill="url(#b4)"/>
<ellipse cx="687.7" cy="367.9" rx="44.1" ry="11.6" transform="rotate(12 687.7 367.9)" fill="url(#b4)"/>
<ellipse cx="880.2" cy="387.8" rx="23.2" ry="11.6" fill="url(#b4)"/>
<ellipse cx="1023.1" cy="412.1" rx="18.6" ry="10.2" fill="url(#b4)"/>
<ellipse cx="1122.7" cy="312.1" rx="25.6" ry="5.6" fill="url(#b4)"/>
<ellipse cx="386.2" cy="413.2" rx="32.5" ry="8.4" fill="url(#b4)"/>
<ellipse cx="299.9" cy="580.2" rx="69.7" ry="12.1" transform="rotate(5 299.9 580.2)" fill="url(#b4)"/>
<ellipse cx="330.9" cy="586.9" rx="27.9" ry="13" fill="url(#b4)"/>
<ellipse cx="218" cy="592.4" rx="32.5" ry="11.6" fill="url(#b4)"/>
<ellipse cx="184.8" cy="580.2" rx="20.9" ry="9.3" fill="url(#b4)"/>
<ellipse cx="461.4" cy="579.1" rx="41.8" ry="20.9" transform="rotate(-35 461.4 579.1)" fill="url(#b4)"/>
<ellipse cx="613.2" cy="605.7" rx="23.2" ry="9.3" fill="url(#b4)"/>
<ellipse cx="633.1" cy="428.7" rx="13" ry="13.9" fill="url(#b4)"/>
<ellipse cx="878.9" cy="521.6" rx="20.9" ry="5.6" transform="rotate(-10 878.9 521.6)" fill="url(#b4)"/>
<ellipse cx="919.8" cy="583.6" rx="27.9" ry="13" fill="url(#b4)"/>
<ellipse cx="1043.7" cy="572.5" rx="18.6" ry="8.4" fill="url(#b4)"/>
<ellipse cx="1021.6" cy="413.2" rx="16.3" ry="8.4" fill="url(#b4)"/>
<ellipse cx="875.6" cy="606.8" rx="18.6" ry="8.4" transform="rotate(-20 875.6 606.8)" fill="url(#b4)"/>
<ellipse cx="1220" cy="469" rx="12.6" ry="10.5" fill="url(#b4)"/>
<ellipse cx="1078" cy="456" rx="6.3" ry="8.4" fill="url(#b4)"/>
<ellipse cx="419.4" cy="610" rx="27.9" ry="10.2" transform="rotate(-20 419.4 610)" fill="url(#b4)"/>
<ellipse cx="379.5" cy="667.5" rx="32.5" ry="8.4" transform="rotate(15 379.5 667.5)" fill="url(#b4)"/>
<ellipse cx="915.4" cy="673" rx="13.9" ry="5.6" fill="url(#b4)"/>
<ellipse cx="1105.7" cy="624.7" rx="16.5" ry="8.2" fill="url(#b4)"/>
<ellipse cx="1124.2" cy="647.1" rx="8.2" ry="10.6" transform="rotate(-30 1124.2 647.1)" fill="url(#b4)"/>
<ellipse cx="1218.4" cy="672.9" rx="16.5" ry="5.9" fill="url(#b4)"/>
<ellipse cx="279.3" cy="411.2" rx="59.6" ry="11.9" fill="url(#b4)"/>
<ellipse cx="382.5" cy="407.3" rx="59.6" ry="13" fill="url(#b4)"/>
<ellipse cx="1208" cy="672" rx="31.5" ry="6.3" fill="url(#b4)"/>
<ellipse cx="386" cy="385.7" rx="31.7" ry="11.1" transform="rotate(-5 386 385.7)" fill="url(#o4)"/>
<ellipse cx="324.3" cy="383" rx="15.8" ry="11.1" fill="url(#o4)"/>
<ellipse cx="335.2" cy="390.2" rx="15.8" ry="10.3" fill="url(#o4)"/>
<ellipse cx="498.7" cy="298.5" rx="19.8" ry="9.9" fill="url(#o4)"/>
<ellipse cx="906.8" cy="329.1" rx="38.7" ry="13.8" transform="rotate(10 906.8 329.1)" fill="url(#o4)"/>
<ellipse cx="717.6" cy="364.5" rx="22.1" ry="10" fill="url(#o4)"/>
<ellipse cx="756.3" cy="356.8" rx="52.5" ry="13.3" transform="rotate(18 756.3 356.8)" fill="url(#o4)"/>
<ellipse cx="871.4" cy="401" rx="55.3" ry="11.1" transform="rotate(5 871.4 401)" fill="url(#o4)"/>
<ellipse cx="1009.9" cy="376.7" rx="27.7" ry="12.2" fill="url(#o4)"/>
<ellipse cx="1082.9" cy="374.5" rx="16.6" ry="27.7" fill="url(#o4)"/>
<ellipse cx="1105" cy="374.5" rx="16.6" ry="24.9" fill="url(#o4)"/>
<ellipse cx="1093.9" cy="383.3" rx="38.7" ry="13.8" fill="url(#o4)"/>
<ellipse cx="184.8" cy="470.7" rx="22.1" ry="12.2" fill="url(#o4)"/>
<ellipse cx="397.2" cy="474.1" rx="55.3" ry="22.1" fill="url(#o4)"/>
<ellipse cx="344.1" cy="543.7" rx="55.3" ry="13.3" transform="rotate(-20 344.1 543.7)" fill="url(#o4)"/>
<ellipse cx="229.1" cy="547.1" rx="33.2" ry="11.1" transform="rotate(10 229.1 547.1)" fill="url(#o4)"/>
<ellipse cx="450.3" cy="551.5" rx="38.7" ry="12.2" transform="rotate(-10 450.3 551.5)" fill="url(#o4)"/>
<ellipse cx="717.2" cy="491.8" rx="16.6" ry="19.4" transform="rotate(-30 717.2 491.8)" fill="url(#o4)"/>
<ellipse cx="770.2" cy="499.5" rx="16.6" ry="16.6" fill="url(#o4)"/>
<ellipse cx="515.8" cy="506.1" rx="16.6" ry="16.6" transform="rotate(-40 515.8 506.1)" fill="url(#o4)"/>
<ellipse cx="619.8" cy="539.3" rx="33.2" ry="13.8" fill="url(#o4)"/>
<ellipse cx="677.3" cy="450.8" rx="49.8" ry="16.6" transform="rotate(-5 677.3 450.8)" fill="url(#o4)"/>
<ellipse cx="573.3" cy="474.1" rx="60.8" ry="11.1" transform="rotate(-5 573.3 474.1)" fill="url(#o4)"/>
<ellipse cx="975.1" cy="554.8" rx="16.6" ry="22.1" fill="url(#o4)"/>
<ellipse cx="948.6" cy="437.5" rx="33.2" ry="13.8" fill="url(#o4)"/>
<ellipse cx="928.7" cy="475.2" rx="30.4" ry="8.3" transform="rotate(5 928.7 475.2)" fill="url(#o4)"/>
<ellipse cx="972.9" cy="477.4" rx="22.1" ry="8.3" fill="url(#o4)"/>
<ellipse cx="1037.1" cy="475.2" rx="49.8" ry="10" transform="rotate(5 1037.1 475.2)" fill="url(#o4)"/>
<ellipse cx="1061.4" cy="437.5" rx="33.2" ry="19.4" transform="rotate(-30 1061.4 437.5)" fill="url(#o4)"/>
<ellipse cx="1050.3" cy="442" rx="27.7" ry="8.3" transform="rotate(-15 1050.3 442)" fill="url(#o4)"/>
<ellipse cx="780.4" cy="498.4" rx="19.4" ry="16.6" fill="url(#o4)"/>
<ellipse cx="1003.9" cy="503.9" rx="19.4" ry="13.8" fill="url(#o4)"/>
<ellipse cx="1072.5" cy="508.3" rx="11.1" ry="11.1" fill="url(#o4)"/>
<ellipse cx="829.1" cy="508.3" rx="55.3" ry="11.1" transform="rotate(-10 829.1 508.3)" fill="url(#o4)"/>
<ellipse cx="800.3" cy="516.1" rx="27.7" ry="13.8" fill="url(#o4)"/>
<ellipse cx="1070.2" cy="588" rx="13.8" ry="11.1" fill="url(#o4)"/>
<ellipse cx="1126" cy="597" rx="40" ry="15" fill="url(#o4)"/>
<ellipse cx="1134" cy="450" rx="35" ry="15" transform="rotate(-15 1134 450)" fill="url(#o4)"/>
<ellipse cx="1119" cy="501" rx="20" ry="20" fill="url(#o4)"/>
<ellipse cx="1114" cy="495" rx="15" ry="7.5" fill="url(#o4)"/>
<ellipse cx="1088" cy="507" rx="35" ry="11" fill="url(#o4)"/>
<ellipse cx="1100.7" cy="644.8" rx="25.2" ry="15.4" fill="url(#o4)"/>
<ellipse cx="1175.8" cy="658.3" rx="16.8" ry="18.2" transform="rotate(15 1175.8 658.3)" fill="url(#o4)"/>
<ellipse cx="1207" cy="580" rx="12.5" ry="22.5" fill="url(#o4)"/>
<ellipse cx="364.3" cy="302.7" rx="33.2" ry="14.2" transform="rotate(5 364.3 302.7)" fill="url(#b5)"/>
<ellipse cx="568.7" cy="295.2" rx="47.5" ry="15.8" fill="url(#b5)"/>
<ellipse cx="602" cy="304.3" rx="41.2" ry="15.8" transform="rotate(15 602 304.3)" fill="url(#b5)"/>
<ellipse cx="505.3" cy="319.3" rx="31.7" ry="17.4" fill="url(#b5)"/>
<ellipse cx="547" cy="327.7" rx="25.3" ry="19" transform="rotate(30 547 327.7)" fill="url(#b5)"/>
<ellipse cx="557" cy="336.8" rx="28.5" ry="12.7" transform="rotate(10 557 336.8)" fill="url(#b5)"/>
<ellipse cx="678.9" cy="299.3" rx="44.2" ry="26.5" fill="url(#b5)"/>
<ellipse cx="703.2" cy="312.5" rx="31" ry="22.1" fill="url(#b5)"/>
<ellipse cx="732" cy="292.6" rx="53.1" ry="13.3" fill="url(#b5)"/>
<ellipse cx="747.5" cy="371.2" rx="17.7" ry="12.4" fill="url(#b5)"/>
<ellipse cx="1126" cy="394.8" rx="22.1" ry="11.1" fill="url(#b5)"/>
<ellipse cx="1164.7" cy="292.6" rx="15.5" ry="12.4" fill="url(#b5)"/>
<ellipse cx="282.2" cy="413.2" rx="39.8" ry="8.8" fill="url(#b5)"/>
<ellipse cx="628.7" cy="599.1" rx="37.6" ry="14.2" transform="rotate(-8 628.7 599.1)" fill="url(#b5)"/>
<ellipse cx="968.5" cy="500.6" rx="24.3" ry="11.1" transform="rotate(15 968.5 500.6)" fill="url(#b5)"/>
<ellipse cx="1065.8" cy="455.2" rx="22.1" ry="8.8" fill="url(#b5)"/>
<ellipse cx="815.8" cy="594.6" rx="22.1" ry="11.1" transform="rotate(10 815.8 594.6)" fill="url(#b5)"/>
<ellipse cx="997.2" cy="616.6" rx="48.7" ry="11.1" transform="rotate(5 997.2 616.6)" fill="url(#b5)"/>
<ellipse cx="1061.4" cy="611.1" rx="33.2" ry="11.1" transform="rotate(-25 1061.4 611.1)" fill="url(#b5)"/>
<ellipse cx="1173.5" cy="626.3" rx="22.4" ry="12.3" fill="url(#b5)"/>
<ellipse cx="1200.4" cy="651" rx="20.2" ry="11.2" fill="url(#b5)"/>
<ellipse cx="1208.3" cy="609.5" rx="14.6" ry="7.8" transform="rotate(-10 1208.3 609.5)" fill="url(#b5)"/>
<ellipse cx="645.7" cy="297.1" rx="39.8" ry="22.1" fill="url(#b6)"/>
<ellipse cx="326.4" cy="427.6" rx="35.4" ry="18.6" fill="url(#b6)"/>
<ellipse cx="355.2" cy="428.3" rx="33.2" ry="17.7" fill="url(#b6)"/>
<ellipse cx="493.7" cy="581.4" rx="53.1" ry="16.8" transform="rotate(8 493.7 581.4)" fill="url(#b6)"/>
<ellipse cx="948.6" cy="656.4" rx="39.8" ry="12.4" transform="rotate(5 948.6 656.4)" fill="url(#b6)"/>
<ellipse cx="701" cy="351.3" rx="45.8" ry="13.2" transform="rotate(15 701 351.3)" fill="url(#o5)"/>
<ellipse cx="952.3" cy="339.1" rx="33.1" ry="17.8" transform="rotate(-10 952.3 339.1)" fill="url(#o5)"/>
<ellipse cx="1026.5" cy="364.5" rx="35.6" ry="17.8" transform="rotate(15 1026.5 364.5)" fill="url(#o5)"/>
<ellipse cx="463.6" cy="481.8" rx="35.6" ry="11.2" transform="rotate(-25 463.6 481.8)" fill="url(#o5)"/>
<ellipse cx="413.8" cy="487.3" rx="15.3" ry="12.7" fill="url(#o5)"/>
<ellipse cx="606.5" cy="490.6" rx="30.5" ry="10.2" transform="rotate(-15 606.5 490.6)" fill="url(#o5)"/>
<ellipse cx="633.1" cy="481.8" rx="20.4" ry="12.7" fill="url(#o5)"/>
<ellipse cx="484.8" cy="543.7" rx="30.5" ry="15.3" fill="url(#o5)"/>
<ellipse cx="664.1" cy="543.7" rx="101.8" ry="22.9" transform="rotate(8 664.1 543.7)" fill="url(#o5)"/>
<ellipse cx="741.5" cy="539.3" rx="61.1" ry="20.4" transform="rotate(-8 741.5 539.3)" fill="url(#o5)"/>
<ellipse cx="770.2" cy="534.9" rx="25.4" ry="25.4" fill="url(#o5)"/>
<ellipse cx="635.3" cy="445.3" rx="20.4" ry="12.7" fill="url(#o5)"/>
<ellipse cx="588.8" cy="472.5" rx="17.8" ry="7.6" fill="url(#o5)"/>
<ellipse cx="798.1" cy="541.5" rx="61.1" ry="20.4" transform="rotate(-5 798.1 541.5)" fill="url(#o5)"/>
<ellipse cx="1037.1" cy="558.1" rx="30.5" ry="7.6" fill="url(#o5)"/>
<ellipse cx="882.2" cy="424.3" rx="66.2" ry="15.3" transform="rotate(-8 882.2 424.3)" fill="url(#o5)"/>
<ellipse cx="964.1" cy="428.7" rx="56" ry="17.8" transform="rotate(5 964.1 428.7)" fill="url(#o5)"/>
<ellipse cx="886.6" cy="487.3" rx="25.4" ry="14.2" fill="url(#o5)"/>
<ellipse cx="1142" cy="539" rx="32.2" ry="18.4" fill="url(#o5)"/>
<ellipse cx="1122" cy="583" rx="59.8" ry="36.8" transform="rotate(30 1122 583)" fill="url(#o5)"/>
<ellipse cx="1116" cy="571" rx="36.8" ry="18.4" fill="url(#o5)"/>
<ellipse cx="1156" cy="549" rx="18.4" ry="11.5" fill="url(#o5)"/>
<ellipse cx="1109" cy="437" rx="20.7" ry="11.5" fill="url(#o5)"/>
<ellipse cx="1165.7" cy="642.6" rx="18" ry="8.3" fill="url(#o5)"/>
<ellipse cx="359.3" cy="391.3" rx="60.2" ry="11.4" transform="rotate(-9 359.3 391.3)" fill="url(#r1)"/>
<ellipse cx="871.4" cy="314.8" rx="35.4" ry="14.2" fill="url(#r1)"/>
<ellipse cx="953.4" cy="339.1" rx="13.3" ry="8" fill="url(#r1)"/>
<ellipse cx="1032" cy="365.6" rx="15.5" ry="9.7" fill="url(#r1)"/>
<ellipse cx="1043" cy="345.7" rx="19.9" ry="8.8" transform="rotate(30 1043 345.7)" fill="url(#r1)"/>
<ellipse cx="1065.2" cy="397.7" rx="24.3" ry="14.2" fill="url(#r1)"/>
<ellipse cx="353" cy="520.5" rx="48.7" ry="16.8" transform="rotate(-15 353 520.5)" fill="url(#r1)"/>
<ellipse cx="443.7" cy="532.7" rx="44.2" ry="12.4" fill="url(#r1)"/>
<ellipse cx="472.5" cy="517.2" rx="13.3" ry="13.3" fill="url(#r1)"/>
<ellipse cx="549" cy="492.9" rx="31" ry="15.5" transform="rotate(25 549 492.9)" fill="url(#r1)"/>
<ellipse cx="675.1" cy="491.8" rx="17.7" ry="11.1" fill="url(#r1)"/>
<ellipse cx="748.1" cy="511.7" rx="44.2" ry="15.5" transform="rotate(-12 748.1 511.7)" fill="url(#r1)"/>
<ellipse cx="513.6" cy="534.9" rx="75.2" ry="19.9" transform="rotate(-18 513.6 534.9)" fill="url(#r1)"/>
<ellipse cx="697.2" cy="549.3" rx="35.4" ry="13.3" fill="url(#r1)"/>
<ellipse cx="752.5" cy="541.5" rx="22.1" ry="8.8" fill="url(#r1)"/>
<ellipse cx="1068" cy="565.9" rx="17.7" ry="22.1" fill="url(#r1)"/>
<ellipse cx="959.6" cy="511.7" rx="48.7" ry="9.7" transform="rotate(8 959.6 511.7)" fill="url(#r1)"/>
<ellipse cx="930.9" cy="417.6" rx="22.1" ry="13.3" fill="url(#r1)"/>
<ellipse cx="1116" cy="551" rx="16" ry="12" fill="url(#r1)"/>
<ellipse cx="1142" cy="527" rx="22" ry="18" fill="url(#r1)"/>
<ellipse cx="1208" cy="597" rx="16" ry="10" fill="url(#r1)"/>
<ellipse cx="1184" cy="595" rx="12" ry="10" fill="url(#r1)"/>
<ellipse cx="1088" cy="563" rx="24" ry="12" fill="url(#r1)"/>
<ellipse cx="1194.8" cy="624.7" rx="15.7" ry="15.7" fill="url(#r1)"/>
<ellipse cx="1123.1" cy="633.6" rx="12.3" ry="10.1" fill="url(#r1)"/>
<ellipse cx="1200.5" cy="594.2" rx="23.4" ry="14.5" fill="url(#r1)"/>
<ellipse cx="1208" cy="596" rx="10" ry="8" fill="url(#r1)"/>
<ellipse cx="873.6" cy="314.8" rx="22.1" ry="9.7" fill="url(#r2)"/>
<ellipse cx="403.9" cy="471.8" rx="19.9" ry="13.3" fill="url(#r2)"/>
<ellipse cx="432.6" cy="494" rx="39.8" ry="12.4" fill="url(#r2)"/>
<ellipse cx="375.1" cy="512.8" rx="22.1" ry="13.3" transform="rotate(-20 375.1 512.8)" fill="url(#r2)"/>
<ellipse cx="443.7" cy="533.3" rx="26.5" ry="6.6" fill="url(#r2)"/>
<ellipse cx="626.4" cy="499.5" rx="26.5" ry="15.5" fill="url(#r2)"/>
<ellipse cx="703.9" cy="503.9" rx="33.2" ry="19.9" transform="rotate(-20 703.9 503.9)" fill="url(#r2)"/>
<ellipse cx="489.3" cy="516.1" rx="35.4" ry="11.1" fill="url(#r2)"/>
<ellipse cx="520.2" cy="531.6" rx="44.2" ry="11.1" transform="rotate(-18 520.2 531.6)" fill="url(#r2)"/>
<ellipse cx="831.3" cy="539.3" rx="48.7" ry="16.8" fill="url(#r2)"/>
<ellipse cx="953" cy="548.2" rx="17.7" ry="15.5" fill="url(#r2)"/>
<ellipse cx="997.2" cy="534.9" rx="26.5" ry="17.7" fill="url(#r2)"/>
<ellipse cx="1030.4" cy="526" rx="35.4" ry="13.3" fill="url(#r2)"/>
<ellipse cx="1068" cy="530.5" rx="22.1" ry="15.5" fill="url(#r2)"/>
<ellipse cx="1084" cy="541" rx="18" ry="16" fill="url(#r2)"/>
<ellipse cx="1180" cy="549" rx="44" ry="18" fill="url(#r2)"/>
<ellipse cx="1170" cy="573" rx="68" ry="22" transform="rotate(12 1170 573)" fill="url(#r2)"/>
<ellipse cx="1202" cy="585" rx="16" ry="20" fill="url(#r2)"/>
<ellipse cx="1223" cy="458.6" rx="11.2" ry="6.4" fill="url(#r2)"/>
<ellipse cx="599.9" cy="503.9" rx="57.5" ry="15.5" fill="url(#r3)"/>
<ellipse cx="655.2" cy="487.3" rx="48.7" ry="16.8" transform="rotate(5 655.2 487.3)" fill="url(#r3)"/>
<ellipse cx="882.2" cy="540.4" rx="57.5" ry="17.7" transform="rotate(-5 882.2 540.4)" fill="url(#r3)"/>
<ellipse cx="928.7" cy="526" rx="31" ry="22.1" fill="url(#r3)"/>
<ellipse cx="970.7" cy="539.3" rx="53.1" ry="19.9" fill="url(#r3)"/>
<ellipse cx="1019.4" cy="543.7" rx="26.5" ry="15.5" fill="url(#r3)"/>
<ellipse cx="1096" cy="547" rx="44" ry="20" transform="rotate(10 1096 547)" fill="url(#r3)"/>
<ellipse cx="568.9" cy="502.8" rx="31" ry="15.5" fill="url(#r4)"/>
<ellipse cx="886.6" cy="539.3" rx="35.4" ry="9.7" transform="rotate(-5 886.6 539.3)" fill="url(#r4)"/>
<ellipse cx="926.4" cy="521.6" rx="35.4" ry="16.8" fill="url(#r4)"/>
<ellipse cx="972.9" cy="538.2" rx="33.2" ry="11.1" fill="url(#r4)"/>
<ellipse cx="1030.4" cy="547.1" rx="48.7" ry="15.5" transform="rotate(15 1030.4 547.1)" fill="url(#r4)"/>
<ellipse cx="1048.1" cy="528.3" rx="44.2" ry="11.1" fill="url(#r4)"/>
<ellipse cx="1180" cy="549" rx="30" ry="12.8" fill="url(#r4)"/>
<ellipse cx="1156" cy="570" rx="28" ry="12" fill="url(#r4)"/>
<ellipse cx="1188" cy="579" rx="32" ry="14" transform="rotate(10 1188 579)" fill="url(#r4)"/>
<ellipse cx="1201.6" cy="630.3" rx="13.5" ry="22.4" fill="url(#r4)"/>
<ellipse cx="1149" cy="590" rx="16.5" ry="12" fill="url(#hw)"/>
<ellipse cx="1110" cy="539" rx="13.5" ry="6" fill="url(#hw)"/>
<ellipse cx="1054" cy="545" rx="18" ry="7.5" transform="rotate(-20 1054 545)" fill="url(#hw)"/>
<ellipse cx="586" cy="489" rx="36" ry="6" fill="url(#hw)"/>
<ellipse cx="1094" cy="371" rx="10.5" ry="5.2" fill="url(#hw)"/>
<ellipse cx="1149" cy="591" rx="6" ry="4.5" fill="url(#hb)"/>
</g>
<!-- no-data (white) around land -->
<path fill="#fff" d="M896.00,279.28h214.05v4.08h-214.05zM896.00,283.06h214.05v4.08h-214.05zM896.00,286.84h214.05v4.08h-214.05zM899.75,290.62h210.30v4.08h-210.30zM903.50,294.40h206.55v4.08h-206.55zM907.25,298.18h202.80v4.08h-202.80zM918.50,301.96h191.55v4.08h-191.55zM926.00,305.74h184.05v4.08h-184.05zM937.25,309.52h169.05v4.08h-169.05zM1132.25,309.52h11.55v4.08h-11.55zM1147.25,309.52h11.55v4.08h-11.55zM944.75,313.30h225.30v4.08h-225.30zM956.00,317.08h41.55v4.08h-41.55zM1012.25,317.08h161.55v4.08h-161.55zM971.00,320.86h19.05v4.08h-19.05zM1019.75,320.86h157.80v4.08h-157.80zM1023.50,324.64h161.55v4.08h-161.55zM1027.25,328.42h154.05v4.08h-154.05zM1031.00,332.20h150.30v4.08h-150.30zM1034.75,335.98h146.55v4.08h-146.55zM1038.50,339.76h142.80v4.08h-142.80zM1042.25,343.54h139.05v4.08h-139.05zM1049.75,347.32h127.80v4.08h-127.80zM1068.50,351.10h109.05v4.08h-109.05zM1076.00,354.88h101.55v4.08h-101.55zM1083.50,358.66h94.05v4.08h-94.05zM1091.00,362.44h86.55v4.08h-86.55zM1109.75,366.22h67.80v4.08h-67.80zM1113.50,370.00h64.05v4.08h-64.05zM1117.25,373.78h60.30v4.08h-60.30zM1121.00,377.56h52.80v4.08h-52.80zM1124.75,381.34h49.05v4.08h-49.05zM1128.50,385.12h45.30v4.08h-45.30zM1136.00,388.90h37.80v4.08h-37.80zM1136.00,392.68h41.55v4.08h-41.55zM1136.00,396.46h41.55v4.08h-41.55zM1136.00,400.24h45.30v4.08h-45.30zM1136.00,404.02h49.05v4.08h-49.05zM1136.00,407.80h52.80v4.08h-52.80zM1143.50,411.58h52.80v4.08h-52.80zM1147.25,415.36h4.05v4.08h-4.05zM1154.75,415.36h41.55v4.08h-41.55zM1226.00,415.36h15.30v4.08h-15.30zM1162.25,419.14h41.55v4.08h-41.55zM1214.75,419.14h26.55v4.08h-26.55zM1166.00,422.92h75.30v4.08h-75.30zM1166.00,426.70h75.30v4.08h-75.30zM1166.00,430.48h75.30v4.08h-75.30zM1177.25,434.26h64.05v4.08h-64.05zM1181.00,438.04h4.05v4.08h-4.05zM1196.00,438.04h45.30v4.08h-45.30zM1199.75,441.82h41.55v4.08h-41.55zM1207.25,445.60h30.30v4.08h-30.30zM1207.25,449.38h19.05v4.08h-19.05zM1211.00,453.16h4.05v4.08h-4.05zM1214.75,559.00h7.80v4.08h-7.80zM1214.75,562.78h7.80v4.08h-7.80zM1214.75,566.56h7.80v4.08h-7.80zM1214.75,600.58h15.30v4.08h-15.30zM1214.75,604.36h15.30v4.08h-15.30zM1214.75,608.14h15.30v4.08h-15.30zM1211.00,645.94h19.05v4.08h-19.05zM1211.00,649.72h19.05v4.08h-19.05zM1211.00,653.50h19.05v4.08h-19.05zM1211.00,657.28h19.05v4.08h-19.05zM1211.00,661.06h19.05v4.08h-19.05z"/><rect x="1053" y="565" width="10.5" height="14" fill="#fff"/>
<!-- land -->
<g fill="#808080" stroke="#000" stroke-width="1" stroke-linejoin="round"><path fill-rule="evenodd" d="M899.5,280.0 L900.0,288.0 L910.0,296.3 L923.3,301.3 L940.0,308.0 L956.7,314.7 L970.0,318.0 L982.5,321.7 L991.7,317.2 L1000.0,313.5 L1010.0,313.8 L1020.0,318.0 L1030.0,326.3 L1038.3,334.7 L1048.3,343.0 L1058.3,347.2 L1070.0,348.8 L1080.0,354.7 L1090.0,358.0 L1094.2,360.0 L1108.8,360.0 L1112.0,356.3 L1116.7,361.5 L1112.5,363.1 L1120.4,372.0 L1125.0,377.0 L1140.0,389.0 L1140.0,403.0 L1141.0,408.0 L1146.0,410.0 L1149.5,413.0 L1154.0,408.5 L1158.0,413.0 L1167.0,419.0 L1171.0,424.0 L1171.0,430.0 L1178.0,432.0 L1182.0,435.5 L1186.0,433.5 L1195.0,435.0 L1201.0,438.0 L1205.0,442.0 L1212.0,443.0 L1213.5,450.5 L1225.0,447.0 L1235.0,445.0 L1235.0,419.0 L1225.0,421.5 L1206.0,427.5 L1200.0,423.5 L1195.0,422.5 L1192.0,416.0 L1180.0,408.0 L1174.0,398.0 L1169.8,389.0 L1171.5,377.0 L1174.3,364.7 L1174.6,349.0 L1178.5,343.7 L1179.0,335.4 L1176.9,329.6 L1170.6,326.5 L1163.3,319.6 L1152.8,317.3 L1144.5,319.1 L1137.1,317.6 L1122.5,321.2 L1112.0,319.4 L1104.7,322.8 L1092.1,316.5 L1100.0,310.7 L1103.1,301.8 L1103.6,287.7 L1103.6,280.0 Z M1220.0,436.5 L1225.0,434.0 L1235.0,434.0 L1235.0,444.0 L1225.0,444.0 L1221.0,440.0 Z"/><path d="M1235.0,560.0 L1224.8,560.0 L1220.0,563.2 L1219.5,569.6 L1213.6,572.8 L1215.2,581.6 L1216.0,591.2 L1213.6,594.4 L1221.6,600.8 L1224.8,603.2 L1235.0,605.0 Z M1235.0,608.0 L1224.8,610.4 L1216.0,615.2 L1206.4,623.2 L1207.2,632.8 L1210.4,642.4 L1214.4,644.0 L1209.6,648.8 L1219.2,655.2 L1224.8,659.2 L1235.0,662.0 Z"/><path d="M1055.0,558.0 L1058.0,560.0 L1063.5,568.5 L1059.5,574.5 L1054.5,571.5 L1058.5,568.0 L1054.5,564.0 Z"/></g>
<!-- grid lines -->
<g stroke="#000" stroke-width="1" stroke-dasharray="1 3" fill="none">
<path d="M179,332.5H1225M179,408.5H1225M179,484.5H1225M179,559.5H1225M179,634.5H1225"/>
<path d="M401.5,290V677M626.5,290V677M851.5,290V677M1076.5,290V677"/>
</g>
</g>
<!-- frame -->
<rect x="176" y="285.6" width="1051" height="393.4" fill="none" stroke="#000" stroke-width="4"/>
<!-- ticks -->
<g stroke="#000" stroke-width="3.8" fill="none">
<path d="M178,332H186M178,408H186M178,484H186M178,559H186M178,634H186"/>
<path d="M1225,332H1217M1225,408H1217M1225,484H1217M1225,559H1217M1225,634H1217"/>
<path d="M401.4,677V669M626.4,677V669M851.4,677V669M1076.8,677V669"/>
<path d="M401.4,288V296M626.4,288V296M851.4,288V296M1076.8,288V296"/>
</g>
<!-- colourbar -->
<rect x="175" y="711.5" width="1049.5" height="19" fill="url(#cb)" stroke="#262626" stroke-width="1"/>
<g stroke="#262626" stroke-width="1" shape-rendering="crispEdges">
<path d="M349.5,720V730M524.5,720V730M699.5,720V730M874.5,720V730M1049.5,720V730"/>
</g>
</svg>
<div class="t" id="title">AVHRR Meridional Sea Surface Temperature Gradient</div>
<div class="t" id="sub">2013-10-09</div>
<div class="t yl" style="top:327.3px">15<sup>o</sup>N</div>
<div class="t yl" style="top:403.3px">10<sup>o</sup>N</div>
<div class="t yl" style="top:479.3px">5<sup>o</sup>N</div>
<div class="t yl" style="top:554.3px">0<sup>o</sup></div>
<div class="t yl" style="top:629.3px">5<sup>o</sup>S</div>
<div class="t xl" style="left:176px">150<sup>o</sup>W</div>
<div class="t xl" style="left:401px">135<sup>o</sup>W</div>
<div class="t xl" style="left:626px">120<sup>o</sup>W</div>
<div class="t xl" style="left:851px">105<sup>o</sup>W</div>
<div class="t xl" style="left:1076px">90<sup>o</sup>W</div>
<div class="t cl" style="left:174px">-0.03</div>
<div class="t cl" style="left:349.5px">-0.02</div>
<div class="t cl" style="left:524.5px">-0.01</div>
<div class="t cl" style="left:699.5px">0</div>
<div class="t cl" style="left:874.5px">0.01</div>
<div class="t cl" style="left:1049.5px">0.02</div>
<div class="t cl" style="left:1224px">0.03</div>
<div class="t" id="unit">°C/km</div>
</body></html>
